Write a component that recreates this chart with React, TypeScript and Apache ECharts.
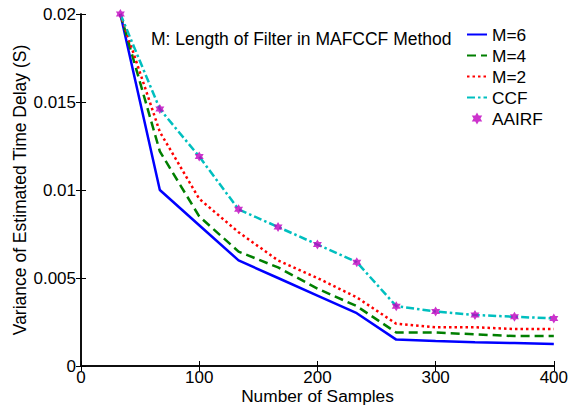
import React, { useEffect, useRef } from "react";
import * as echarts from "echarts";

const samples = [33.3, 66.7, 100, 133.3, 166.7, 200, 233.3, 266.7, 300, 333.3, 366.7, 400];
const m6 = [0.02, 0.01, 0.008, 0.006, 0.005, 0.004, 0.003, 0.0015, 0.00142, 0.00135, 0.0013, 0.00125];
const m4 = [0.02, 0.0122, 0.0085, 0.0065, 0.0056, 0.0044, 0.0034, 0.0019, 0.0019, 0.0018, 0.0017, 0.0017];
const m2 = [0.02, 0.0133, 0.0095, 0.0076, 0.006, 0.005, 0.0039, 0.0024, 0.0022, 0.0022, 0.0021, 0.0021];
const ccf = [0.02, 0.0146, 0.0119, 0.0089, 0.0079, 0.0069, 0.0059, 0.0034, 0.0031, 0.0029, 0.0028, 0.0027];
const aairf = [0.02, 0.0146, 0.0119, 0.0089, 0.0079, 0.0069, 0.0059, 0.0034, 0.0031, 0.0029, 0.0028, 0.0027];
const xTicks = { min: 0, max: 400, interval: 100 };
const yTicks = { min: 0, max: 0.02, interval: 0.005 };

const FONT = "'Liberation Sans', Arial, Helvetica, sans-serif";
const HEX = "path://M0,-10L2.887,-5L8.66,-5L5.774,0L8.66,5L2.887,5L0,10L-2.887,5L-8.66,5L-5.774,0L-8.66,-5L-2.887,-5Z";

const zip = (ys: number[]) => samples.map((x, i) => [x, ys[i]]);

export default function App() {
  const ref = useRef<HTMLDivElement>(null);
  useEffect(() => {
    if (!ref.current) return;
    const chart = echarts.init(ref.current, undefined, { renderer: "svg" });
    const axisLine = { show: true, lineStyle: { color: "#000", width: 1.5 } };
    const tick = { show: true, inside: true, length: 5, lineStyle: { color: "#000", width: 1 } };
    const lineSeries = (name: string, data: number[], color: string, type: any) => ({
      name,
      type: "line",
      data: zip(data),
      symbol: "none",
      showSymbol: false,
      clip: false,
      itemStyle: { color },
      lineStyle: { color, width: 2.5, type },
    });
    const hideSym = { opacity: 0 };
    chart.setOption({
      animation: false,
      grid: { left: 81, right: 17, top: 14, bottom: 42, containLabel: false },
      xAxis: [
        {
          type: "value", position: "bottom", ...xTicks,
          axisLine, axisTick: tick, splitLine: { show: false },
          axisLabel: { color: "#000", fontSize: 17, fontFamily: FONT, margin: 4, lineHeight: 15 },
        },
        {
          type: "value", position: "top", ...xTicks,
          axisLine, axisTick: tick, splitLine: { show: false }, axisLabel: { show: false },
        },
      ],
      yAxis: [
        {
          type: "value", position: "left", ...yTicks,
          axisLine, axisTick: tick, splitLine: { show: false },
          axisLabel: { color: "#000", fontSize: 17, fontFamily: FONT, margin: 5 },
        },
        {
          type: "value", position: "right", ...yTicks,
          axisLine, axisTick: tick, splitLine: { show: false }, axisLabel: { show: false },
        },
      ],
      legend: {
        orient: "vertical",
        left: 461,
        top: 21,
        itemWidth: 20,
        itemHeight: 12,
        itemGap: 4,
        textStyle: { color: "#000", fontSize: 17.3, fontFamily: FONT, lineHeight: 17 },
        data: [
          { name: "M=6", itemStyle: hideSym },
          { name: "M=4", itemStyle: hideSym },
          { name: "M=2", itemStyle: hideSym },
          { name: "CCF", itemStyle: hideSym },
          { name: "AAIRF" },
        ],
      },
      graphic: [
        {
          type: "text", x: 151, y: 39,
          style: { text: "M: Length of Filter in MAFCCF Method", fontSize: 17.5, fontFamily: FONT, fill: "#000", textAlign: "left", textVerticalAlign: "middle" },
        },
        {
          type: "text", x: 317.5, y: 396,
          style: { text: "Number of Samples", fontSize: 17.3, fontFamily: FONT, fill: "#000", textAlign: "center", textVerticalAlign: "middle" },
        },
        {
          type: "text", x: 20, y: 190, rotation: Math.PI / 2,
          style: { text: "Variance of Estimated Time Delay (S)", fontSize: 17.5, fontFamily: FONT, fill: "#000", textAlign: "center", textVerticalAlign: "middle" },
        },
      ],
      series: [
        lineSeries("M=6", m6, "#0000FF", "solid"),
        lineSeries("M=4", m4, "#007F00", [9, 5]),
        lineSeries("M=2", m2, "#FF0000", [2.5, 3]),
        lineSeries("CCF", ccf, "#00BFBF", [8, 3, 2.5, 3]),
        {
          name: "AAIRF",
          type: "scatter",
          data: zip(aairf),
          symbol: HEX,
          symbolSize: [9, 10],
          clip: false,
          itemStyle: { color: "#BF00BF" },
          z: 5,
        },
      ],
    });
    return () => chart.dispose();
  }, []);
  return <div ref={ref} style={{ position: "fixed", left: 0, top: 0, width: 571, height: 408, background: "#fff" }} />;
}
